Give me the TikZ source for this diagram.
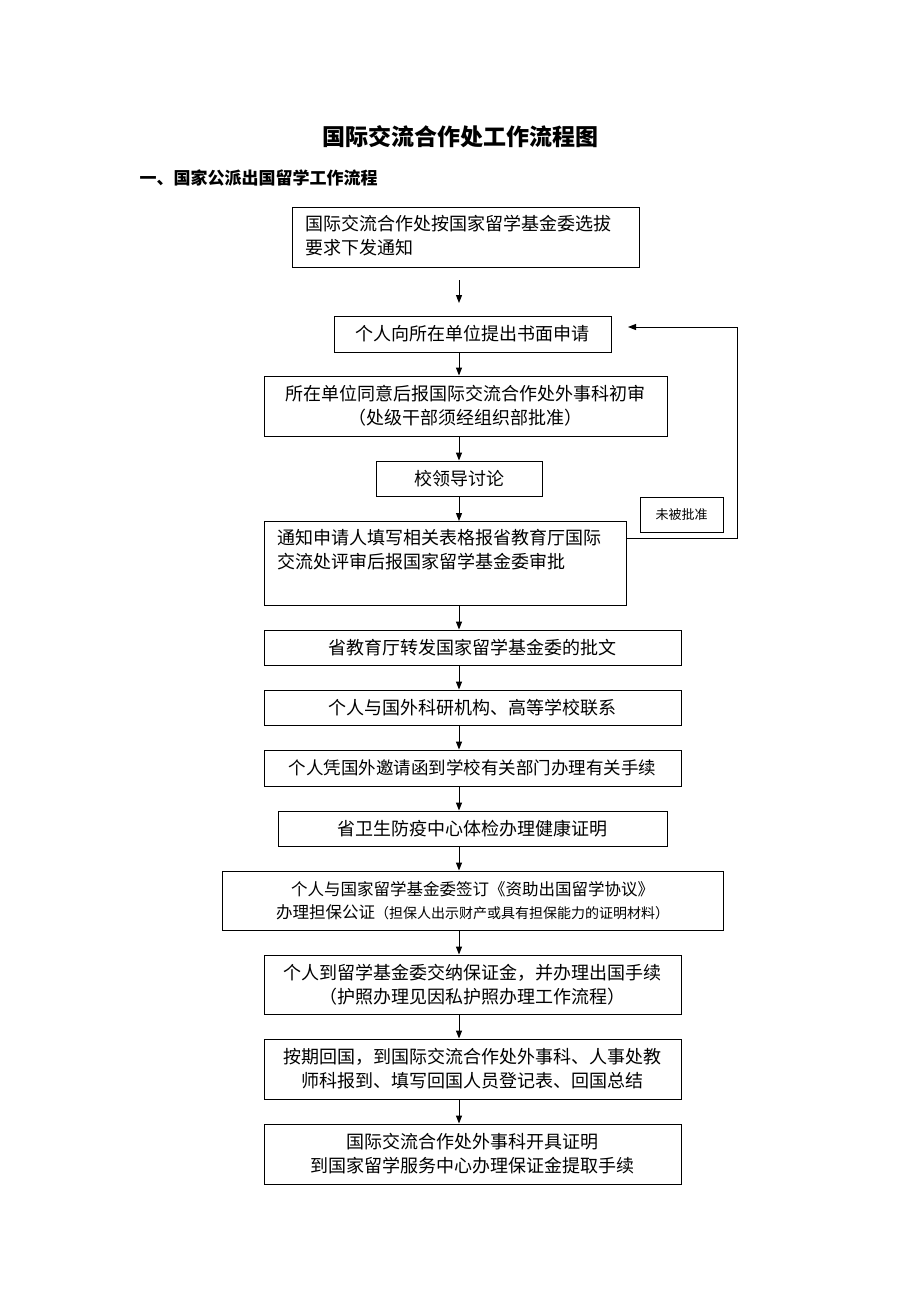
\documentclass[tikz,border=0pt]{standalone}
\usepackage{fontspec}
\setmainfont{Noto Sans CJK SC}
\usetikzlibrary{arrows.meta}
\begin{document}
\begin{tikzpicture}[x=1pt,y=-1pt,
 bx/.style={draw,line width=0.9pt,inner sep=0},
 tx/.style={font=\fontsize{18}{24}\selectfont,align=center},
 ar/.style={-{Triangle[length=8pt,width=6pt]},line width=1pt}]
\useasboundingbox (0,0) rectangle (920,1302);
\node[font=\bfseries\fontsize{23}{26}\selectfont] (title) at (460,137) {国际交流合作处工作流程图};
\node[font=\bfseries\fontsize{17}{20}\selectfont,anchor=west] (h1) at (136,178) {一、国家公派出国留学工作流程};
\draw[bx] (292,207) rectangle (639,267);
\node[tx,align=left,anchor=north west] (t1) at (302,212) {国际交流合作处按国家留学基金委选拔\\要求下发通知};
\coordinate (a0) at (459,280);
\node[bx,minimum width=277,minimum height=36,tx] (b2) at (472.5,334) {个人向所在单位提出书面申请};
\node[bx,minimum width=403,minimum height=60,tx] (b3) at (465.5,406) {所在单位同意后报国际交流合作处外事科初审\\（处级干部须经组织部批准）};
\node[bx,minimum width=166,minimum height=35,tx] (b4) at (459,478.5) {校领导讨论};
\draw[bx] (264,521) rectangle (626,605);
\node[tx,align=left,anchor=north west] (t5) at (274,526) {通知申请人填写相关表格报省教育厅国际\\交流处评审后报国家留学基金委审批};
\coordinate (b5n) at (459,521);
\coordinate (b5s) at (459,605);
\coordinate (b5e) at (626,538);
\coordinate (c1) at (737,538);
\coordinate (c2) at (737,327);
\coordinate (c3) at (628,327);
\node[bx,minimum width=83,minimum height=35,font=\fontsize{13}{15}\selectfont] (nb) at (681.5,514.5) {未被批准};
\node[bx,minimum width=417,minimum height=35,tx] (b6) at (472.5,647.5) {省教育厅转发国家留学基金委的批文};
\node[bx,minimum width=417,minimum height=35,tx] (b7) at (472.5,707.5) {个人与国外科研机构、高等学校联系};
\node[bx,minimum width=417,minimum height=36,tx,font=\fontsize{17.5}{22}\selectfont] (b8) at (472.5,768) {个人凭国外邀请函到学校有关部门办理有关手续};
\node[bx,minimum width=389,minimum height=35,tx] (b9) at (472.5,828.5) {省卫生防疫中心体检办理健康证明};
\node[bx,minimum width=501,minimum height=59,tx,font=\fontsize{16.5}{23}\selectfont] (b10) at (472.5,900.5) {个人与国家留学基金委签订《资助出国留学协议》\\办理担保公证{\fontsize{14}{16}\selectfont（担保人出示财产或具有担保能力的证明材料）}};
\node[bx,minimum width=417,minimum height=59,tx] (b11) at (472.5,984.5) {个人到留学基金委交纳保证金，并办理出国手续\\（护照办理见因私护照办理工作流程）};
\node[bx,minimum width=417,minimum height=60,tx] (b12) at (472.5,1069) {按期回国，到国际交流合作处外事科、人事处教\\师科报到、填写回国人员登记表、回国总结};
\node[bx,minimum width=417,minimum height=60,tx] (b13) at (472.5,1154) {国际交流合作处外事科开具证明\\到国家留学服务中心办理保证金提取手续};
\draw[ar] (a0) -- (459,303);
\draw[ar] (b2.south -| 459,0) -- (b3.north -| 459,0);
\draw[ar] (b3.south -| 459,0) -- (b4.north -| 459,0);
\draw[ar] (b4.south -| 459,0) -- (b5n);
\draw[ar] (b5s) -- (b6.north -| 459,0);
\foreach \p/\q in {b6/b7,b7/b8,b8/b9,b9/b10,b10/b11,b11/b12,b12/b13}
 \draw[ar] (\p.south -| 459,0) -- (\q.north -| 459,0);
\draw[ar] (b5e) -- (c1) -- (c2) -- (c3);
\end{tikzpicture}
\end{document}
